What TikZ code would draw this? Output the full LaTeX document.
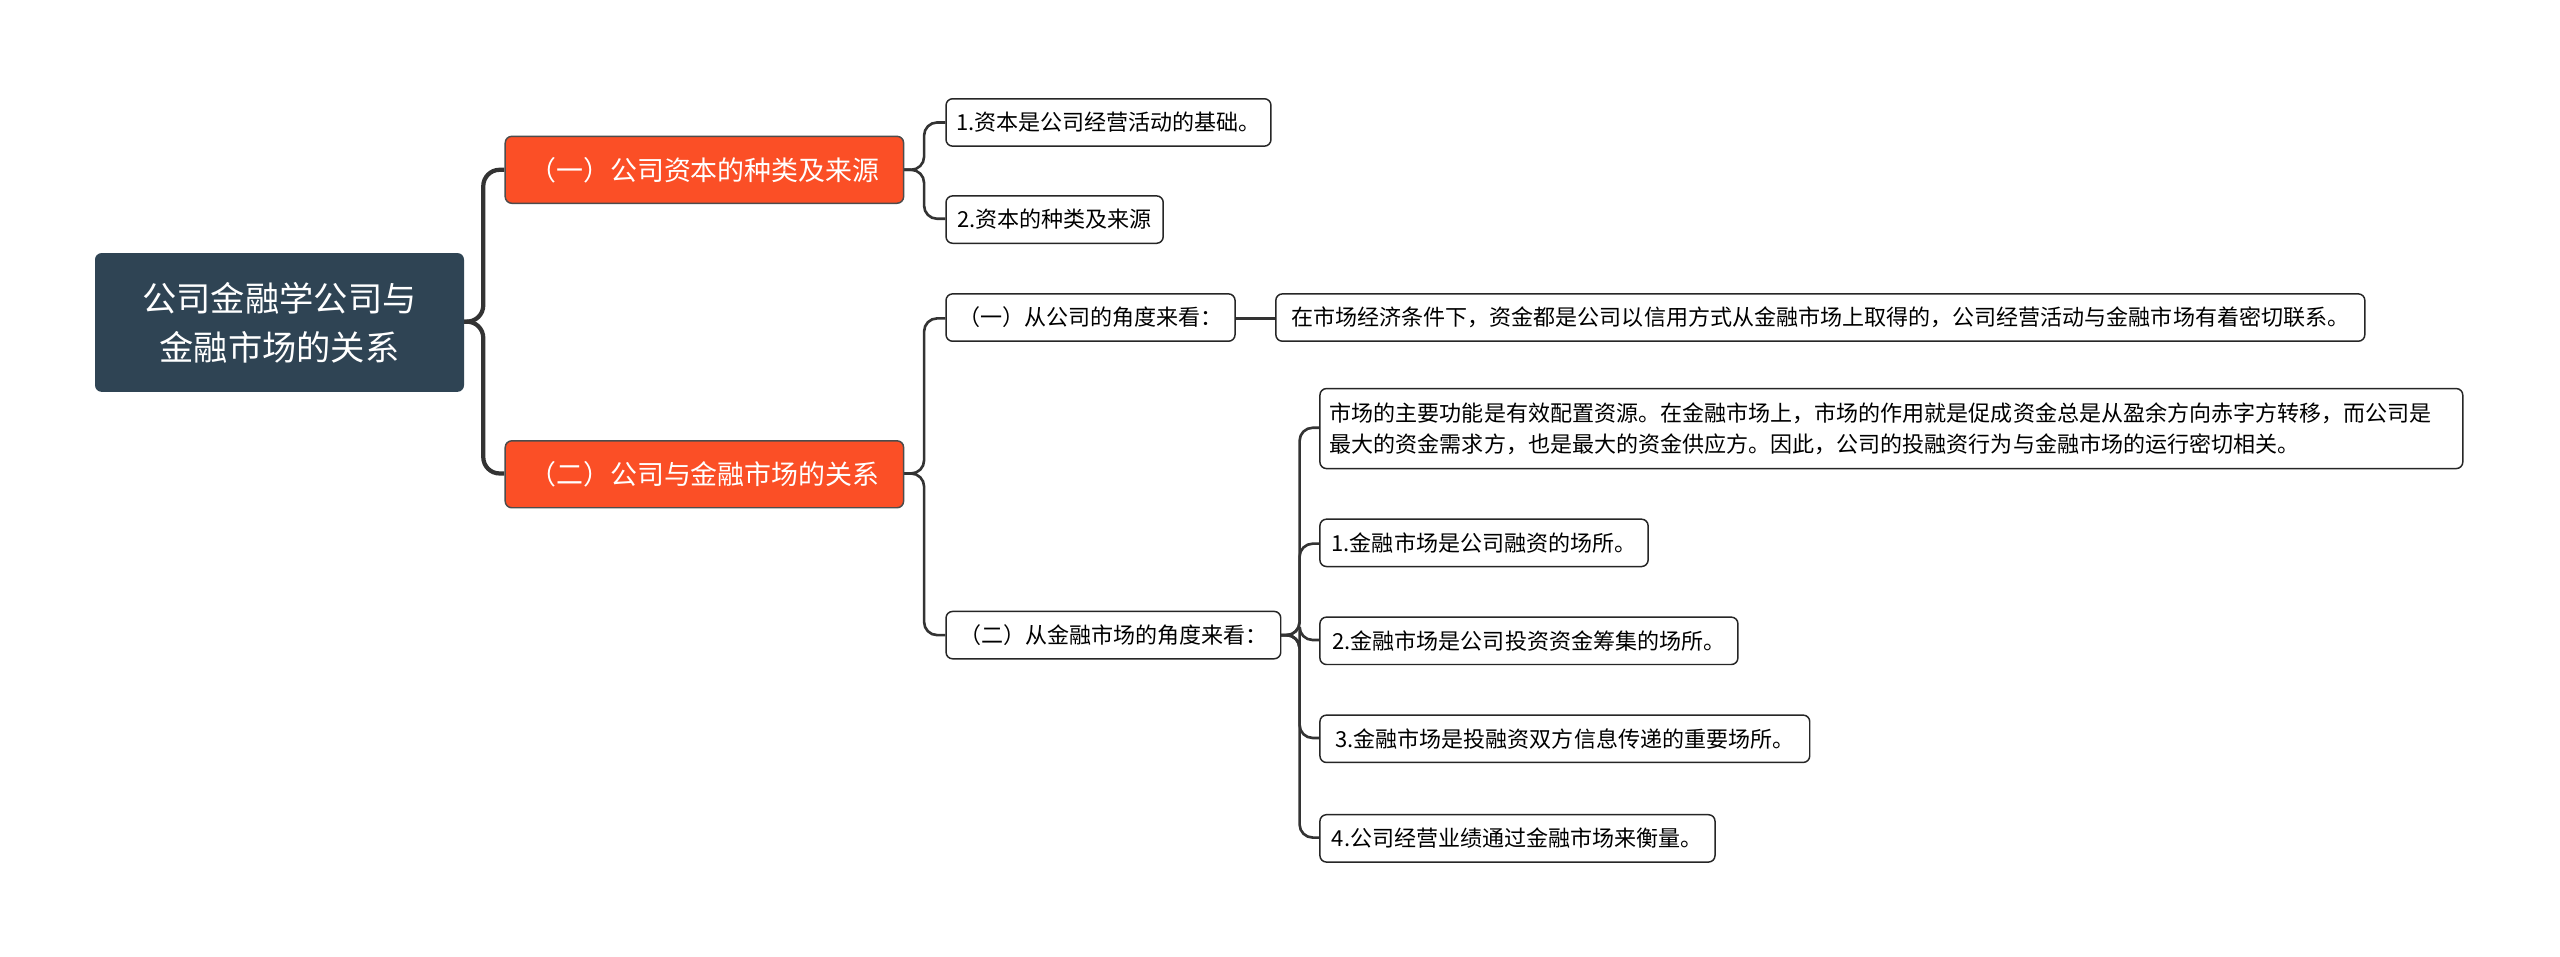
\documentclass[tikz,border=0pt]{standalone}
\usepackage{fontspec}
\setmainfont{Noto Sans CJK SC}
\begin{document}
\begin{tikzpicture}[x=1pt,y=-1pt,
 leaf/.style={draw=black!85,line width=0.9pt,rounded corners=4pt,fill=white,anchor=west,inner xsep=6pt,inner ysep=0pt,minimum height=29pt,font=\fontsize{13.5}{19}\selectfont,align=left},
 main/.style={draw=black!70,line width=0.9pt,rounded corners=4pt,fill=orange,anchor=west,text=white,minimum height=41pt,minimum width=244pt,font=\fontsize{16.5}{20}\selectfont},
 conn/.style={draw=black!80,line width=1.6pt,rounded corners=8pt},
 thick conn/.style={draw=black!80,line width=2.6pt,rounded corners=10pt}]
\definecolor{orange}{HTML}{FB4F26}
\definecolor{rootc}{HTML}{2F4454}
\useasboundingbox (0,0) rectangle (1568,586);
\fill[white] (0,0) rectangle (1568,586);
% connectors
\draw[thick conn] (284,197) -- (296,197) -- (296,104) -- (309,104);
\draw[thick conn] (284,197) -- (296,197) -- (296,290) -- (309,290);
\draw[conn] (553,104) -- (566,104) -- (566,75) -- (579,75);
\draw[conn] (553,104) -- (566,104) -- (566,134) -- (579,134);
\draw[conn] (553,290) -- (566,290) -- (566,195) -- (579,195);
\draw[conn] (553,290) -- (566,290) -- (566,389) -- (579,389);
\draw[conn] (756,195) -- (781,195);
\foreach \y in {262,333,392,452,513}{\draw[conn] (784,389) -- (796,389) -- (796,\y) -- (808,\y);}
% nodes
\node[fill=rootc,rounded corners=4pt,text=white,minimum width=226pt,minimum height=85pt,anchor=west,align=center,font=\fontsize{21}{30}\selectfont] (r) at (58,197.5) {公司金融学公司与\\金融市场的关系};
\node[main] (a1) at (309,104) {（一）公司资本的种类及来源};
\node[main] (a2) at (309,290.5) {（二）公司与金融市场的关系};
\node[leaf,minimum width=199pt] (b1) at (579,75) {1.资本是公司经营活动的基础。};
\node[leaf,minimum width=133pt] (b2) at (579,134.5) {2.资本的种类及来源};
\node[leaf,minimum width=177pt] (b3) at (579,194.5) {（一）从公司的角度来看：};
\node[leaf,minimum width=667pt] (c1) at (781,194.5) {在市场经济条件下，资金都是公司以信用方式从金融市场上取得的，公司经营活动与金融市场有着密切联系。};
\node[leaf,minimum width=205pt] (b4) at (579,389) {（二）从金融市场的角度来看：};
\node[leaf,minimum height=49pt,text width=688pt] (d1) at (808,262.5) {市场的主要功能是有效配置资源。在金融市场上，市场的作用就是促成资金总是从盈余方向赤字方转移，而公司是\\最大的资金需求方，也是最大的资金供应方。因此，公司的投融资行为与金融市场的运行密切相关。};
\node[leaf,minimum width=201pt] (d2) at (808,332.5) {1.金融市场是公司融资的场所。};
\node[leaf,minimum width=256pt] (d3) at (808,392.5) {2.金融市场是公司投资资金筹集的场所。};
\node[leaf,minimum width=300pt] (d4) at (808,452.5) {3.金融市场是投融资双方信息传递的重要场所。};
\node[leaf,minimum width=242pt] (d5) at (808,513.5) {4.公司经营业绩通过金融市场来衡量。};
\end{tikzpicture}
\end{document}
